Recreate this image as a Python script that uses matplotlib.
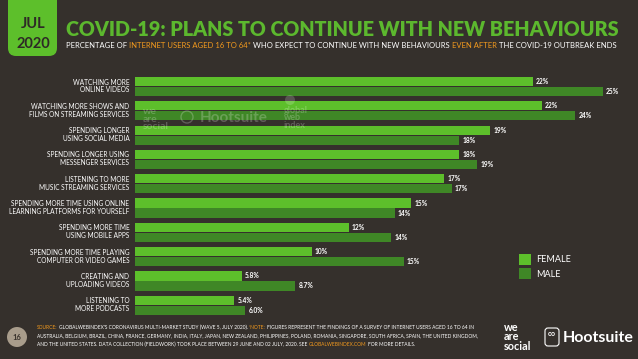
import matplotlib
matplotlib.use("Agg")
import matplotlib.pyplot as plt
from matplotlib import font_manager
from matplotlib.patches import FancyBboxPatch, Circle, Patch

W, H = 638, 359
BG = "#35302c"
FEMALE_C = "#5dbf2b"
MALE_C = "#3f8726"
GREEN_T = "#5cb82e"
ORANGE = "#f39a1e"
WHITE = "#ffffff"

categories = [
    "WATCHING MORE\nONLINE VIDEOS",
    "WATCHING MORE SHOWS AND\nFILMS ON STREAMING SERVICES",
    "SPENDING LONGER\nUSING SOCIAL MEDIA",
    "SPENDING LONGER USING\nMESSENGER SERVICES",
    "LISTENING TO MORE\nMUSIC STREAMING SERVICES",
    "SPENDING MORE TIME USING ONLINE\nLEARNING PLATFORMS FOR YOURSELF",
    "SPENDING MORE TIME\nUSING MOBILE APPS",
    "SPENDING MORE TIME PLAYING\nCOMPUTER OR VIDEO GAMES",
    "CREATING AND\nUPLOADING VIDEOS",
    "LISTENING TO\nMORE PODCASTS",
]
female = [21.6, 22.1, 19.3, 17.6, 16.8, 15.0, 11.6, 9.6, 5.8, 5.4]
male = [25.4, 23.9, 17.6, 18.6, 17.2, 14.1, 13.9, 14.6, 8.7, 6.0]
female_labels = ["22%", "22%", "19%", "18%", "17%", "15%", "12%", "10%", "5.8%", "5.4%"]
male_labels = ["25%", "24%", "18%", "19%", "17%", "14%", "14%", "15%", "8.7%", "6.0%"]
series_names = ["FEMALE", "MALE"]

title = "COVID-19: PLANS TO CONTINUE WITH NEW BEHAVIOURS"
subtitle_runs = [
    ("PERCENTAGE OF", WHITE), ("INTERNET USERS AGED 16 TO 64*", ORANGE),
    ("WHO EXPECT TO CONTINUE WITH NEW BEHAVIOURS", WHITE), ("EVEN AFTER", ORANGE),
    ("THE COVID-19 OUTBREAK ENDS", WHITE),
]
source_lines = [
    [("SOURCE:", ORANGE), ("GLOBALWEBINDEX'S CORONAVIRUS MULTI-MARKET STUDY (WAVE 5, JULY 2020).", WHITE),
     ("*NOTE:", ORANGE), ("FIGURES REPRESENT THE FINDINGS OF A SURVEY OF INTERNET USERS AGED 16 TO 64 IN", WHITE)],
    [("AUSTRALIA, BELGIUM, BRAZIL, CHINA, FRANCE, GERMANY, INDIA, ITALY, JAPAN, NEW ZEALAND, PHILIPPINES, POLAND, ROMANIA, SINGAPORE, SOUTH AFRICA, SPAIN, THE UNITED KINGDOM,", WHITE)],
    [("AND THE UNITED STATES. DATA COLLECTION (FIELDWORK) TOOK PLACE BETWEEN 29 JUNE AND 02 JULY, 2020. SEE", WHITE),
     ("GLOBALWEBINDEX.COM", ORANGE), ("FOR MORE DETAILS.", WHITE)],
]

avail = {f.name for f in font_manager.fontManager.ttflist}
def pick(*names):
    for n in names:
        if n in avail:
            return n
    return "DejaVu Sans"
F_TITLE = pick("Lato", "Open Sans", "DejaVu Sans")
F_BODY = pick("Liberation Sans Narrow", "Lato", "Roboto", "DejaVu Sans")

fig = plt.figure(figsize=(W / 100, H / 100), dpi=100, facecolor=BG)
renderer = fig.canvas.get_renderer()

def fx(x):
    return x / W
def fy(y):
    return 1 - y / H

def text_w(s, size, family, weight):
    t = fig.text(0, 0, s, fontsize=size, family=family, fontweight=weight)
    w = t.get_window_extent(renderer).width
    t.remove()
    return w

def draw_runs(x, y, runs, size, family, weight="normal", target_w=None):
    sp = text_w("A A", size, family, weight) - text_w("AA", size, family, weight)
    widths = [text_w(s, size, family, weight) for s, _ in runs]
    total = sum(widths) + sp * (len(runs) - 1)
    if target_w:
        size = size * target_w / total
        sp = text_w("A A", size, family, weight) - text_w("AA", size, family, weight)
        widths = [text_w(s, size, family, weight) for s, _ in runs]
    cx = x
    for (s, c), w in zip(runs, widths):
        fig.text(fx(cx), fy(y), s, color=c, fontsize=size, family=family,
                 fontweight=weight, va="baseline", ha="left")
        cx += w + sp

# date tab
tab = FancyBboxPatch((8 / 100, (H - 56) / 100), 49 / 100, 70 / 100,
                     boxstyle="round,pad=0,rounding_size=0.08",
                     transform=fig.dpi_scale_trans, facecolor=FEMALE_C, edgecolor="none")
fig.add_artist(tab)
fig.text(fx(33), fy(24), "JUL", ha="center", va="center", fontsize=10.5,
         fontweight="bold", color="#2e2a26", family=F_TITLE)
fig.text(fx(33), fy(44), "2020", ha="center", va="center", fontsize=10.5,
         fontweight="bold", color="#2e2a26", family=F_TITLE)

# title / subtitle
draw_runs(66, 35.5, [(title, GREEN_T)], 14, F_TITLE, "heavy", target_w=556)
draw_runs(66, 48, subtitle_runs, 5, F_BODY, "normal", target_w=549)

# main axes (y data in pixel units relative to top at 70 px)
ax_left, ax_right, ax_top, ax_bot = 135, 632, 70, 320
ax = fig.add_axes([fx(ax_left), fy(ax_bot), (ax_right - ax_left) / W, (ax_bot - ax_top) / H])
ax.set_facecolor("none")
ax.set_xlim(0, 27)
ax.set_ylim(ax_bot - ax_top, 0)
ax.axis("off")

step = 24.3
fy_c = [11.5 + step * i for i in range(len(categories))]
my_c = [21.5 + step * i for i in range(len(categories))]
ax.barh(fy_c, female, height=9.2, color=FEMALE_C, label=series_names[0])
ax.barh(my_c, male, height=9.2, color=MALE_C, label=series_names[1])
for i in range(len(categories)):
    ax.text(female[i] + 0.18, fy_c[i], female_labels[i], va="center", ha="left",
            fontsize=4.8, color=WHITE, fontweight="bold", family=F_BODY)
    ax.text(male[i] + 0.18, my_c[i], male_labels[i], va="center", ha="left",
            fontsize=4.8, color=WHITE, fontweight="bold", family=F_BODY)
    ax.text(-0.3, (fy_c[i] + my_c[i]) / 2 - 0.5, categories[i], va="center", ha="right",
            fontsize=4.7, color=WHITE, family=F_BODY, linespacing=1.15, clip_on=False)

# watermark
fig.text(fx(143), fy(119), "we\nare\nsocial", fontsize=7.5, fontweight="bold", color=WHITE,
         alpha=0.22, va="center", ha="left", linespacing=0.8, family=F_TITLE)
fig.text(fx(200), fy(118), "Hootsuite", fontsize=11, fontweight="bold", color=WHITE,
         alpha=0.22, va="center", ha="left", family=F_TITLE)
fig.text(fx(284), fy(118), "global\nweb\nindex", fontsize=6.5, fontweight="bold", color=WHITE,
         alpha=0.22, va="center", ha="left", linespacing=0.8, family=F_TITLE)
fig.add_artist(Circle((290 / 100, (H - 100) / 100), 0.05, transform=fig.dpi_scale_trans,
                      facecolor=WHITE, edgecolor="none", alpha=0.18))
fig.add_artist(Circle((187 / 100, (H - 117) / 100), 0.06, transform=fig.dpi_scale_trans,
                      facecolor="none", edgecolor=WHITE, alpha=0.22, lw=1))

# legend
fig.legend(handles=[Patch(facecolor=FEMALE_C, label=series_names[0]),
                    Patch(facecolor=MALE_C, label=series_names[1])],
           loc="upper left", bbox_to_anchor=(fx(519), fy(254)), frameon=False,
           labelcolor=WHITE, handlelength=1.35, handleheight=1.5,
           handletextpad=0.5, labelspacing=0.35, borderpad=0, borderaxespad=0,
           prop={"family": F_BODY, "size": 6.5})

# footer
fig.add_artist(Circle((17 / 100, (H - 337) / 100), 0.1, transform=fig.dpi_scale_trans,
                      facecolor="#a89c8b", edgecolor="none"))
fig.text(fx(17), fy(337), "16", ha="center", va="center", fontsize=5.5, color="#3a332d",
         fontweight="bold", family=F_BODY)
for j, runs in enumerate(source_lines):
    draw_runs(37, 329 + 8.6 * j, runs, 3.6, F_BODY, "normal", target_w=[437, 441, 382][j])

fig.text(fx(504), fy(337), "we\nare\nsocial", fontsize=7.8, fontweight="bold", color=WHITE,
         va="center", ha="left", linespacing=0.78, family=F_TITLE)
owl = FancyBboxPatch((545 / 100, (H - 346) / 100), 14 / 100, 18 / 100,
                     boxstyle="round,pad=0,rounding_size=0.03", transform=fig.dpi_scale_trans,
                     facecolor="none", edgecolor=WHITE, lw=0.8)
fig.add_artist(owl)
fig.text(fx(552), fy(334), "oo", ha="center", va="center", fontsize=5, color=WHITE,
         fontweight="bold", family=F_TITLE)
fig.text(fx(563), fy(338), "Hootsuite", fontsize=11.5, fontweight="bold", color=WHITE,
         va="center", ha="left", family=F_TITLE)

fig.savefig("out.png", dpi=100, facecolor=BG)
